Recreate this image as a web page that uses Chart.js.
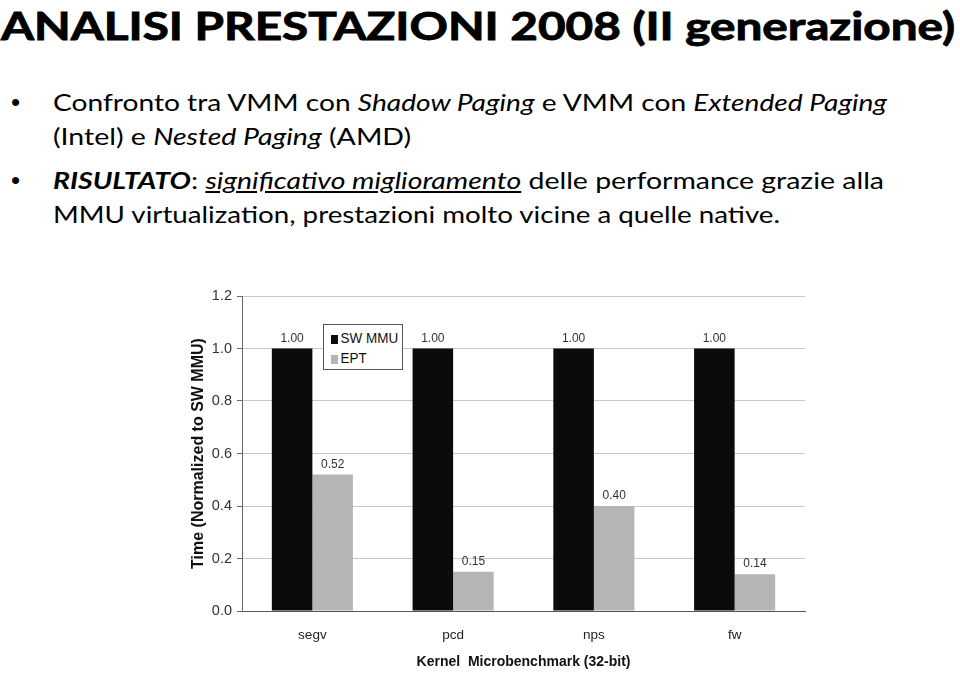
<!DOCTYPE html>
<html lang="it">
<head>
<meta charset="utf-8">
<title>Analisi prestazioni 2008 (II generazione)</title>
<script src="https://cdn.jsdelivr.net/npm/chart.js@4.4.0/dist/chart.umd.min.js"></script>
<style>
  html, body { margin: 0; padding: 0; background: #fff; }
  body {
    width: 960px; height: 674px; position: relative; overflow: hidden;
    font-family: Lato, "Open Sans", sans-serif; color: #000;
  }
  .line { position: absolute; white-space: nowrap; transform-origin: 0 0; }
  .title { font-weight: 700; font-size: 39px; -webkit-text-stroke: 0.9px #000; }
  .body { font-size: 22.5px; }
  .dot { font-family: "Liberation Sans", Arial, sans-serif; font-size: 26px; }
  #chartBox { position: absolute; left: 180px; top: 280px; width: 640px; height: 394px; }
  #legend {
    position: absolute; left: 323px; top: 324px; width: 78px; height: 44px;
    border: 1px solid #555; background: #fff;
    font-family: "Liberation Sans", Arial, sans-serif; font-size: 15.5px; color: #111;
  }
  #legend .item {
    position: absolute; left: 7px; height: 18px; line-height: 18px; white-space: nowrap;
    transform: scaleX(0.87); transform-origin: 0 50%;
  }
  #legend .swatch { display: inline-block; width: 8px; height: 9px; margin-right: 3px; vertical-align: -1px; }
</style>
</head>
<body>

<div class="line title" data-x="1" data-base="40" data-w="954">ANALISI PRESTAZIONI 2008 (II generazione)</div>

<div class="line dot" data-x="11" data-base="111">•</div>
<div class="line body" data-x="53" data-base="111" data-w="834">Confronto tra VMM con <i>Shadow Paging</i> e VMM con <i>Extended Paging</i></div>
<div class="line body" data-x="53" data-base="145" data-w="358">(Intel) e <i>Nested Paging</i> (AMD)</div>

<div class="line dot" data-x="11" data-base="189">•</div>
<div class="line body" data-x="53" data-base="189" data-w="831"><b><i>RISULTATO</i></b>: <u><i>significativo miglioramento</i></u> delle performance grazie alla</div>
<div class="line body" data-x="53" data-base="223" data-w="727">MMU virtualization, prestazioni molto vicine a quelle native.</div>

<div id="chartBox"><canvas id="chart"></canvas></div>
<div id="legend"></div>

<script>
// Data
const categories = ['segv', 'pcd', 'nps', 'fw'];
const swMmu = [1.00, 1.00, 1.00, 1.00];
const ept = [0.52, 0.15, 0.40, 0.14];
const seriesNames = ['SW MMU', 'EPT'];
const seriesColors = ['#0b0b0b', '#b5b5b5'];
const yTicks = [0, 0.2, 0.4, 0.6, 0.8, 1.0, 1.2];

// Place slide text lines on their baselines and squeeze them to the slide widths
function layoutLines() {
  document.querySelectorAll('.line').forEach(el => {
    const marker = document.createElement('span');
    marker.style.cssText = 'display:inline-block;width:0;height:0;vertical-align:baseline';
    el.insertBefore(marker, el.firstChild);
    el.style.left = el.dataset.x + 'px';
    el.style.top = '0px';
    const baseOffset = marker.offsetTop;
    el.style.top = (parseFloat(el.dataset.base) - baseOffset) + 'px';
    if (el.dataset.w) {
      const width = el.getBoundingClientRect().width;
      el.style.transform = 'scaleX(' + (parseFloat(el.dataset.w) / width) + ')';
    }
  });
}

// Legend built from the series names and colours
function buildLegend() {
  const legend = document.getElementById('legend');
  seriesNames.forEach((name, i) => {
    const item = document.createElement('div');
    item.className = 'item';
    item.style.top = (4 + i * 20) + 'px';
    item.innerHTML = '<span class="swatch" style="background:' + seriesColors[i] + '"></span>' + name;
    legend.appendChild(item);
  });
}

// Value labels above each bar
const valueLabels = {
  id: 'valueLabels',
  afterDatasetsDraw(chart) {
    const ctx = chart.ctx;
    ctx.save();
    ctx.font = '12px "Liberation Sans", Arial, sans-serif';
    ctx.fillStyle = '#333';
    ctx.textAlign = 'center';
    ctx.textBaseline = 'alphabetic';
    chart.data.datasets.forEach((ds, i) => {
      chart.getDatasetMeta(i).data.forEach((bar, j) => {
        ctx.fillText(ds.data[j].toFixed(2), bar.x, bar.y - 7);
      });
    });
    ctx.restore();
  }
};

function setupChart() {
  const ctx = document.getElementById('chart').getContext('2d');
  new Chart(ctx, {
    type: 'bar',
    data: {
      labels: categories,
      datasets: [{
        label: seriesNames[0],
        data: swMmu,
        backgroundColor: seriesColors[0]
      }, {
        label: seriesNames[1],
        data: ept,
        backgroundColor: seriesColors[1]
      }]
    },
    options: {
      responsive: true,
      maintainAspectRatio: false,
      animation: false,
      datasets: {
        bar: { categoryPercentage: 0.576, barPercentage: 1.0 }
      },
      layout: { padding: { top: 16, right: 15, bottom: 0, left: 0 } },
      plugins: {
        legend: { display: false },
        tooltip: { enabled: false }
      },
      scales: {
        x: {
          grid: { display: false, drawTicks: false },
          border: { display: true, color: '#555', width: 1 },
          ticks: {
            color: '#222',
            padding: 16,
            font: { family: "'Liberation Sans', Arial, sans-serif", size: 13.5 }
          },
          title: {
            display: true,
            text: 'Kernel  Microbenchmark (32-bit)',
            color: '#111',
            padding: { top: 0, bottom: 3 },
            font: { family: "'Liberation Sans', Arial, sans-serif", size: 14, weight: 'bold' }
          },
          afterFit(scale) { scale.height = 63; }
        },
        y: {
          min: 0,
          max: 1.2,
          afterBuildTicks(scale) {
            scale.ticks = yTicks.map(v => ({ value: v }));
          },
          grid: { color: '#c8c8c8', lineWidth: 1, tickLength: 5, tickColor: '#666' },
          border: { display: true, color: '#666', width: 1 },
          ticks: {
            color: '#333',
            padding: 5,
            font: { family: "'Liberation Sans', Arial, sans-serif", size: 14.5 },
            callback: v => Number(v).toFixed(1)
          },
          title: {
            display: true,
            text: 'Time (Normalized to SW MMU)',
            color: '#111',
            padding: { top: 9, bottom: 0 },
            font: { family: "'Liberation Sans', Arial, sans-serif", size: 16, weight: 'bold' }
          },
          afterFit(scale) { scale.width = 62; }
        }
      }
    },
    plugins: [valueLabels]
  });
}

layoutLines();
buildLegend();
setupChart();
</script>
</body>
</html>
